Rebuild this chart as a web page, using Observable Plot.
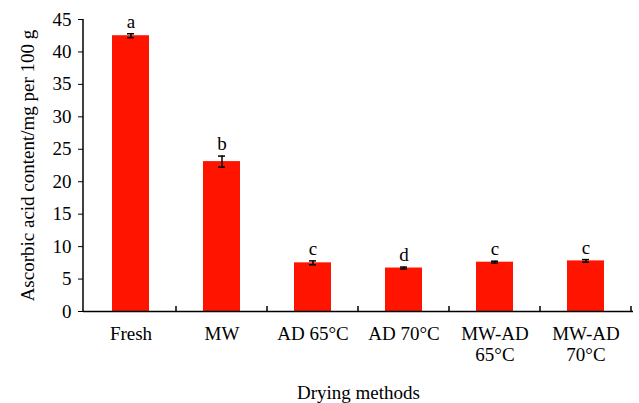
<!DOCTYPE html>
<html>
<head>
<meta charset="utf-8">
<script src="https://cdn.jsdelivr.net/npm/d3@7"></script>
<script src="https://cdn.jsdelivr.net/npm/@observablehq/plot@0.6"></script>
<style>
  html, body { margin: 0; padding: 0; background: #fff; }
  #chart svg { display: block; }
</style>
</head>
<body>
<div id="chart"></div>
<script>
// Ascorbic acid content by drying method (mean ± error, mg per 100 g)
const methods = ["Fresh", "MW", "AD 65°C", "AD 70°C", "MW-AD 65°C", "MW-AD 70°C"];
const tickLabels = ["Fresh", "MW", "AD 65°C", "AD 70°C", "MW-AD\n65°C", "MW-AD\n70°C"];
const means = [42.5, 23.1, 7.5, 6.7, 7.6, 7.8];
const errors = [0.3, 0.85, 0.3, 0.15, 0.15, 0.2];
const letters = ["a", "b", "c", "d", "c", "c"];

const rows = methods.map((m, i) => ({
  method: m,
  mean: means[i],
  lo: means[i] - errors[i],
  hi: means[i] + errors[i],
  letter: letters[i]
}));

const font = "'Liberation Serif', 'Times New Roman', serif";

// Category boundary ticks on the x axis and the y-axis domain line
function frameLines(index, scales, values, dims) {
  const {x, y} = scales;
  const step = x(methods[1]) - x(methods[0]);
  const y0 = y(0);
  const g = d3.create("svg:g").attr("stroke", "#000").attr("stroke-width", 1.5);
  g.append("line")
    .attr("x1", dims.marginLeft).attr("x2", dims.marginLeft)
    .attr("y1", y(45)).attr("y2", y0);
  methods.forEach(m => {
    const bx = x(m) + step;
    g.append("line").attr("x1", bx).attr("x2", bx).attr("y1", y0).attr("y2", y0 - 5);
  });
  return g.node();
}

const chart = Plot.plot({
  width: 639,
  height: 403,
  marginLeft: 83,
  marginRight: 6,
  marginTop: 19,
  marginBottom: 92,
  style: {fontFamily: font, fontSize: "19px", color: "#000", background: "#fff"},
  x: {domain: methods, padding: 0},
  y: {domain: [0, 45]},
  marks: [
    Plot.barY(rows, {x: "method", y: "mean", fill: "#ff1400", insetLeft: 27, insetRight: 27}),
    Plot.ruleX(rows, {x: "method", y1: "lo", y2: "hi", stroke: "#000", strokeWidth: 1.5}),
    Plot.tickY(rows, {x: "method", y: "lo", stroke: "#000", strokeWidth: 1.5, insetLeft: 42, insetRight: 42}),
    Plot.tickY(rows, {x: "method", y: "hi", stroke: "#000", strokeWidth: 1.5, insetLeft: 42, insetRight: 42}),
    Plot.text(rows, {x: "method", y: "hi", text: "letter", dy: -6, lineAnchor: "bottom", fontSize: 19, fill: "#000"}),
    Plot.ruleY([0], {stroke: "#000", strokeWidth: 1.5}),
    frameLines,
    Plot.axisY({
      ticks: d3.range(0, 46, 5),
      tickSize: 5,
      tickPadding: 7,
      label: "Ascorbic acid content/mg per 100 g",
      labelAnchor: "center",
      labelArrow: "none",
      labelOffset: 63,
      fontSize: 19
    }),
    Plot.axisX({
      tickSize: 0,
      tickPadding: 14,
      tickFormat: d => tickLabels[methods.indexOf(d)],
      label: "Drying methods",
      labelAnchor: "center",
      labelArrow: "none",
      labelOffset: 87,
      lineHeight: 1.1,
      fontSize: 19
    })
  ]
});

document.getElementById("chart").appendChild(chart);
</script>
</body>
</html>
